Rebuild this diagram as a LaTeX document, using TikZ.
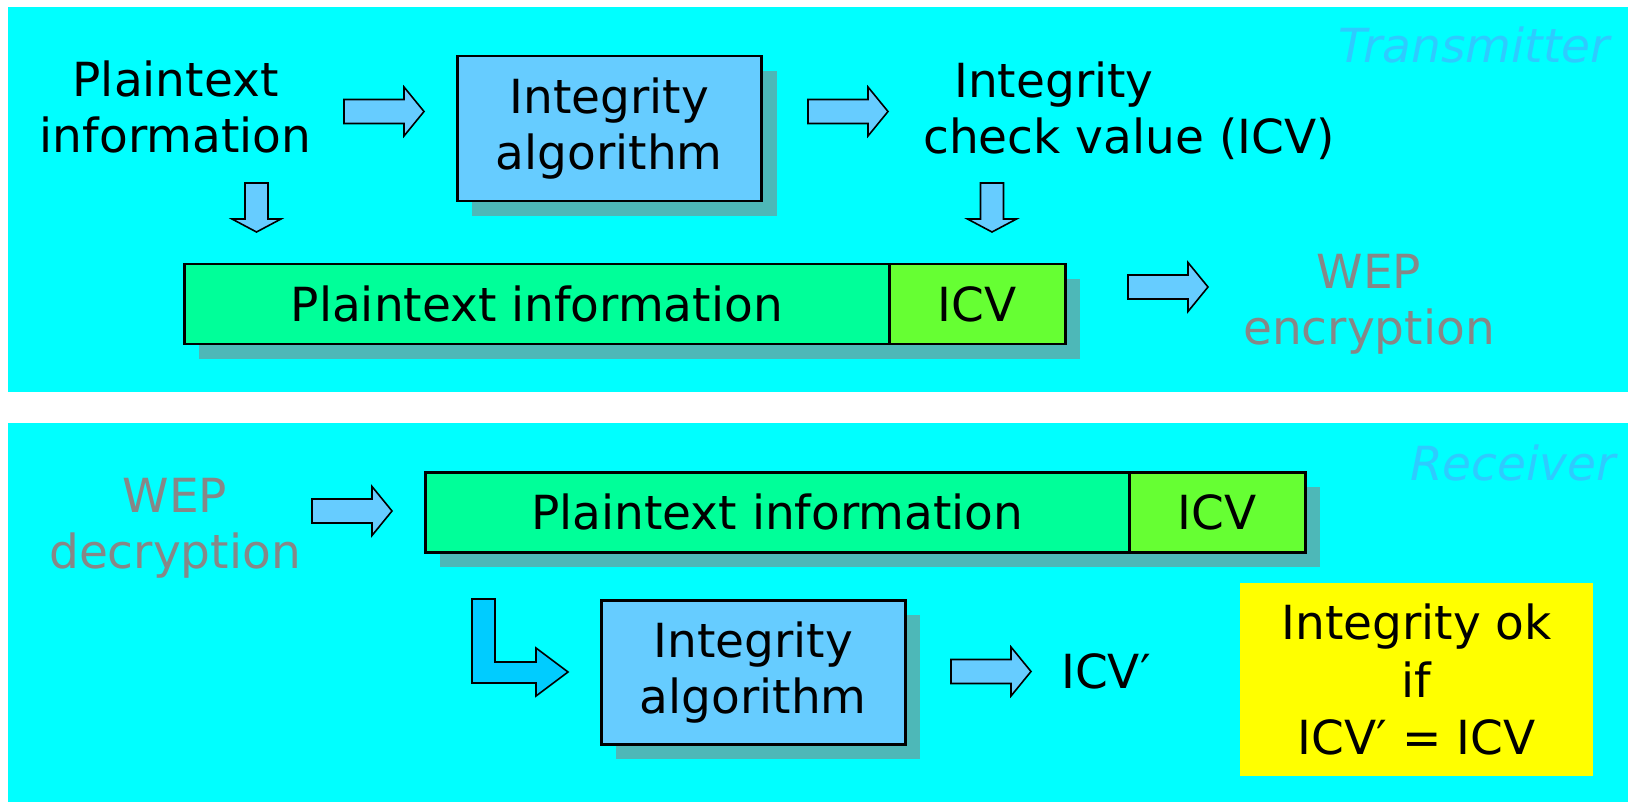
\documentclass[tikz,border=0pt]{standalone}
\usepackage{fontspec}
\setmainfont{DejaVu Sans}
\definecolor{panel}{HTML}{00FFFF}
\definecolor{boxblue}{HTML}{66CCFF}
\definecolor{barGreen}{HTML}{00FF99}
\definecolor{icvGreen}{HTML}{66FF33}
\definecolor{lblue}{HTML}{00CCFF}
\definecolor{shadowc}{HTML}{4DB8B8}
\definecolor{grayText}{HTML}{878787}
\definecolor{titleBlue}{HTML}{2ECBFF}
\definecolor{okYellow}{HTML}{FFFF00}
\tikzset{
  txt/.style={inner sep=0pt, align=center, font=\fontsize{47}{56}\selectfont},
  graytxt/.style={txt, text=grayText},
  titletxt/.style={inner sep=0pt, anchor=base, text=titleBlue, font=\fontsize{47}{56}\selectfont\itshape},
  algbox/.style={txt, draw=black, line width=2.5pt, fill=boxblue, minimum width=304pt, minimum height=145pt, anchor=north west},
  barbox/.style={txt, draw=black, line width=2.5pt, fill=barGreen, minimum height=80pt, anchor=north west},
  shadowbox/.style={fill=shadowc},
  blockarrow/.style={draw=black, line width=1.6pt, fill=boxblue, line join=miter},
  rarr/.pic={\draw[blockarrow] (0,-12) -- (60,-12) -- (60,-24.5) -- (80,0) -- (60,24.5) -- (60,12) -- (0,12) -- cycle;},
  darr/.pic={\draw[blockarrow] (-11.5,0) -- (11.5,0) -- (11.5,36) -- (24.5,36) -- (0,49) -- (-24.5,36) -- (-11.5,36) -- cycle;}
}
\begin{document}
\begin{tikzpicture}[x=1pt, y=-1pt]
\useasboundingbox (0,0) rectangle (1628,802);
\fill[white] (0,0) rectangle (1628,802);
% panels
\fill[panel] (8,7) rectangle (1628,392);
\fill[panel] (8,423) rectangle (1628,802);

% ---------- Transmitter ----------
\node[titletxt] (tx) at (1474,63) {Transmitter};
\node[txt] (plain1) at (175.5,107) {Plaintext\\information};
\pic at (344,111.5) {rarr};
\fill[shadowbox] (472,71) rectangle (777,216);
\node[algbox] (alg1) at (456,55) {Integrity\\algorithm};
\pic at (808,111.5) {rarr};
\node[txt, align=left, anchor=west] (icvtxt) at (923,111) {\hspace*{31pt}Integrity\\check value (ICV)};
\pic at (256.5,183) {darr};
\pic at (992,183) {darr};
\fill[shadowbox] (199,279) rectangle (1080,359);
\node[barbox, minimum width=705pt] (pt1) at (183,263) {Plaintext information};
\node[barbox, fill=icvGreen, minimum width=176pt] (icv1) at (888,263) {ICV};
\pic at (1128,287) {rarr};
\node[graytxt] (wepenc) at (1369,304) {WEP\\encryption};

% ---------- Receiver ----------
\node[titletxt] (rx) at (1513,480) {Receiver};
\node[graytxt] (wepdec) at (175,528.5) {WEP\\decryption};
\pic at (312,511) {rarr};
\fill[shadowbox] (440,487) rectangle (1320,567);
\node[barbox, minimum width=704pt] (pt2) at (424,471) {Plaintext information};
\node[barbox, fill=icvGreen, minimum width=176pt] (icv2) at (1128,471) {ICV};
\draw[blockarrow, fill=lblue] (472,599) -- (495,599) -- (495,662) -- (536,662) -- (536,648) -- (568,672) -- (536,696) -- (536,683) -- (472,683) -- cycle;
\fill[shadowbox] (616,615) rectangle (920,759);
\node[algbox, minimum height=144pt] (alg2) at (600,599) {Integrity\\algorithm};
\pic at (951,671.5) {rarr};
\node[txt, anchor=base west] (icvp) at (1061,688) {ICV′};
\node[txt, fill=okYellow, minimum width=353pt, minimum height=193pt, anchor=north west, font=\fontsize{47}{57.5}\selectfont] (ok) at (1240,583) {Integrity ok\\if\\ICV′ = ICV};
\end{tikzpicture}
\end{document}
